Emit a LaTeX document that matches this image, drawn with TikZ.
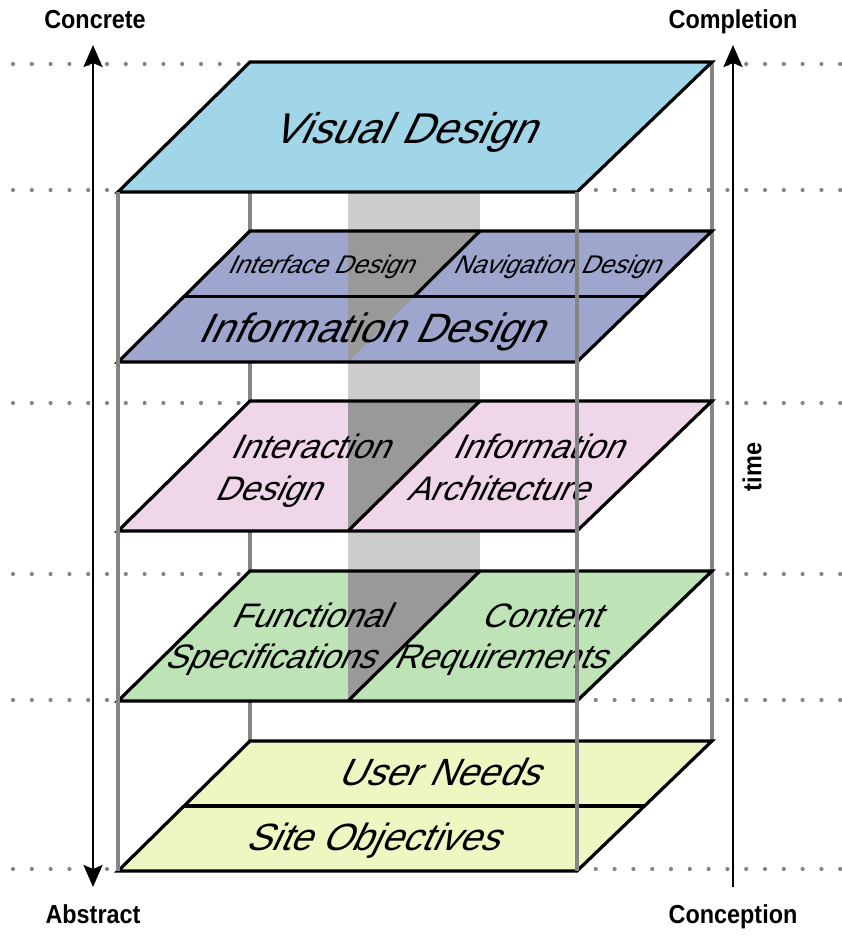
\documentclass[tikz,border=0pt]{standalone}
\usepackage{fontspec}
\setmainfont{Liberation Sans}
\newfontfamily\planefont[FakeSlant=0.48]{Liberation Sans}
\newfontfamily\axisfont[FakeStretch=0.9]{Liberation Sans}
\usetikzlibrary{arrows.meta}
\definecolor{vdBlue}{HTML}{A1D6E8}
\definecolor{idPurple}{HTML}{9EA6CE}
\definecolor{iaPink}{HTML}{F0D6E9}
\definecolor{fsGreen}{HTML}{BDE3B6}
\definecolor{unYellow}{HTML}{EFF6C1}
\definecolor{bandLight}{HTML}{CCCCCC}
\definecolor{bandDark}{HTML}{999999}
\definecolor{postGray}{HTML}{858585}

\begin{document}
\begin{tikzpicture}[x=1pt, y=-1pt,
  layer text/.style={anchor=base, inner sep=0pt, font=\planefont\fontsize{#1}{#1}\selectfont}]
\tikzstyle{plane}=[draw=black, line width=3.2pt]
\tikzstyle{post}=[draw=postGray, line width=3.4pt]
\tikzstyle{dots}=[draw=postGray, line width=4.2pt, line cap=round, dash pattern=on 0pt off 18.8pt]
\tikzstyle{axis}=[anchor=base, inner sep=0pt, font=\axisfont\bfseries\fontsize{26}{26}\selectfont]
\tikzstyle{axisline}=[line width=2.6pt]
\useasboundingbox (0,0) rectangle (842,938);

% dotted guide lines
\foreach \y in {64,190,403,574,700,869}
  \draw[dots] (13,\y) -- (842,\y);

% back posts and the shaded column
\fill[bandLight] (348,192) rectangle (480,571);
\draw[post] (250,192) -- (250,741);
\draw[post] (712,62) -- (712,741);

% layers
\foreach \t/\b/\col in {62/192/vdBlue, 231/362/idPurple, 401/531/iaPink, 571/701/fsGreen, 741/871/unYellow}
  \fill[\col] (118,\b) -- (577,\b) -- (712,\t) -- (250,\t) -- cycle;
\foreach \t/\b in {231/362, 401/531, 571/701}
  \fill[bandDark] (348,\t) -- (480,\t) -- (348,\b) -- cycle;
\foreach \t/\b in {62/192, 231/362, 401/531, 571/701, 741/871}
  \draw[plane] (118,\b) -- (577,\b) -- (712,\t) -- (250,\t) -- cycle;
\draw[plane] (184,296.5) -- (644.5,296.5);
\draw[plane] (184,806) -- (644.5,806);
\draw[plane] (480,231) -- (414,296.5);
\draw[plane] (480,401) -- (348,531);
\draw[plane] (480,571) -- (348,701);

% layer labels
\node[layer text=43] (visual) at (403,143) {Visual Design};
\node[layer text=25.5] (interface) at (320,273) {Interface Design};
\node[layer text=25.5] (navigation) at (556,273) {Navigation Design};
\node[layer text=41] (infodesign) at (370,342) {Information Design};
\node[layer text=34] (interaction) at (309,458) {Interaction};
\node[layer text=34] (interdesign) at (267,500) {Design};
\node[layer text=34] (information) at (537,458) {Information};
\node[layer text=34] (architecture) at (497,500) {Architecture};
\node[layer text=34] (functional) at (309,627) {Functional};
\node[layer text=34] (specs) at (269,668) {Specifications};
\node[layer text=34] (content) at (540,627) {Content};
\node[layer text=34] (requirements) at (499,668) {Requirements};
\node[layer text=38] (userneeds) at (438,785) {User Needs};
\node[layer text=38] (objectives) at (372,850) {Site Objectives};

% front posts
\draw[post] (118,192) -- (118,871);
\draw[post] (577,192) -- (577,871);

% axes
\node[axis] (concrete) at (95,28) {Concrete};
\node[axis] (abstract) at (93,923) {Abstract};
\node[axis] (completion) at (733,28) {Completion};
\node[axis] (conception) at (733,923) {Conception};
\node[axis, anchor=center, rotate=90] (time) at (752,467) {time};
\coordinate (concTop) at (93,45);
\coordinate (abstBot) at (93,887);
\coordinate (timeTop) at (733,45);
\coordinate (timeBot) at (733,887);
\draw[axisline, {Stealth[length=22pt, width=19pt, inset=4pt]}-{Stealth[length=22pt, width=19pt, inset=4pt]}] (abstBot) -- (concTop);
\draw[axisline, -{Stealth[length=22pt, width=19pt, inset=4pt]}] (timeBot) -- (timeTop);
\end{tikzpicture}
\end{document}
